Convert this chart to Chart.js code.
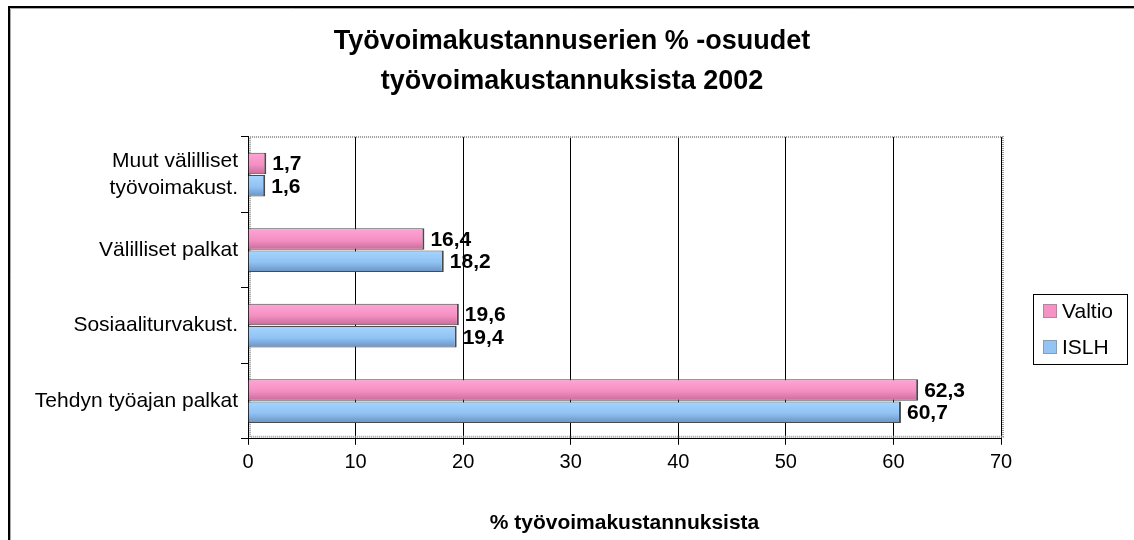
<!DOCTYPE html>
<html>
<head>
<meta charset="utf-8">
<script src="https://cdn.jsdelivr.net/npm/chart.js@4/dist/chart.umd.min.js"></script>
<style>
  body { margin: 0; background: #fff; }
  #wrap { width: 1134px; height: 540px; }
</style>
</head>
<body>
<div id="wrap"><canvas id="chart" width="1134" height="540"></canvas></div>
<script>
// data
const categories = [['Muut välilliset', 'työvoimakust.'], 'Välilliset palkat', 'Sosiaaliturvakust.', 'Tehdyn työajan palkat'];
const valtio = [1.7, 16.4, 19.6, 62.3];
const islh = [1.6, 18.2, 19.4, 60.7];
const seriesNames = ['Valtio', 'ISLH'];
const xMin = 0, xMax = 70, xStep = 10;

const FONT = '"Liberation Sans", Arial, sans-serif';
const CAT_PCT = 0.59;

const palette = [
  { light: '#ffa6d6', mid: '#f58fc2', dark: '#c46a98', flat: '#f593c4' },
  { light: '#a6d6ff', mid: '#90c2f4', dark: '#6890c0', flat: '#94c4f4' }
];

function fmt(v) { return v.toFixed(1).replace('.', ','); }

function barFill(c) {
  const p = palette[c.datasetIndex];
  const chart = c.chart;
  const ys = chart.scales && chart.scales.y;
  if (!ys || !chart.chartArea || c.dataIndex === undefined) return p.flat;
  const center = ys.getPixelForValue(c.dataIndex);
  const band = (ys.bottom - ys.top) / categories.length;
  const t = band * CAT_PCT / 2;
  const top = c.datasetIndex === 0 ? center - t : center;
  const g = chart.ctx.createLinearGradient(0, top, 0, top + t);
  g.addColorStop(0, p.light);
  g.addColorStop(0.55, p.mid);
  g.addColorStop(1, p.dark);
  return g;
}

// white page, outer frame and the grey walls of the plot
const framePlugin = {
  id: 'frame',
  beforeDraw(chart) {
    const ctx = chart.ctx;
    ctx.save();
    ctx.fillStyle = '#fff';
    ctx.fillRect(0, 0, chart.width, chart.height);
    ctx.strokeStyle = '#000';
    ctx.lineWidth = 2;
    ctx.beginPath();
    ctx.moveTo(9, chart.height);
    ctx.lineTo(9, 7);
    ctx.lineTo(chart.width, 7);
    ctx.stroke();
    ctx.strokeStyle = '#aaa';
    ctx.lineWidth = 1;
    ctx.beginPath();
    ctx.moveTo(10.5, chart.height);
    ctx.lineTo(10.5, 8.5);
    ctx.lineTo(chart.width, 8.5);
    ctx.stroke();
    ctx.restore();
  },
  beforeDatasetsDraw(chart) {
    const a = chart.chartArea;
    const ctx = chart.ctx;
    ctx.save();
    ctx.strokeStyle = '#9a9a9a';
    ctx.lineWidth = 2;
    ctx.setLineDash([1, 1]);
    ctx.beginPath();
    ctx.moveTo(a.left + 2, a.bottom - 2);
    ctx.lineTo(a.left + 2, a.top);
    ctx.lineTo(a.right + 2, a.top);
    ctx.lineTo(a.right + 2, a.bottom - 2);
    ctx.lineTo(a.left + 2, a.bottom - 2);
    ctx.stroke();
    ctx.restore();
  }
};

const labelPlugin = {
  id: 'valueLabels',
  afterDatasetsDraw(chart) {
    const ctx = chart.ctx;
    ctx.save();
    ctx.font = 'bold 21px ' + FONT;
    ctx.fillStyle = '#000';
    ctx.textBaseline = 'middle';
    ctx.textAlign = 'left';
    chart.data.datasets.forEach((ds, i) => {
      chart.getDatasetMeta(i).data.forEach((el, j) => {
        ctx.fillText(fmt(ds.data[j]), el.x + 6, el.y + 1);
      });
    });
    ctx.restore();
  }
};

// legend box at the right
const legendPlugin = {
  id: 'boxLegend',
  afterDraw(chart) {
    const ctx = chart.ctx;
    const x = 1033, y = 294, w = 94, h = 70;
    ctx.save();
    ctx.strokeStyle = '#000';
    ctx.lineWidth = 1;
    ctx.strokeRect(x + 0.5, y + 0.5, w, h);
    ctx.font = '21px ' + FONT;
    ctx.textBaseline = 'middle';
    ctx.textAlign = 'left';
    chart.data.datasets.forEach((ds, i) => {
      const cy = y + 17 + i * 36;
      ctx.fillStyle = palette[i].flat;
      ctx.fillRect(x + 10, cy - 7, 14, 14);
      ctx.strokeStyle = '#777';
      ctx.setLineDash([1, 1]);
      ctx.strokeRect(x + 10.5, cy - 6.5, 13, 13);
      ctx.setLineDash([]);
      ctx.fillStyle = '#000';
      ctx.fillText(ds.label, x + 29, cy + 1);
    });
    ctx.restore();
  }
};

new Chart(document.getElementById('chart'), {
  type: 'bar',
  data: {
    labels: categories,
    datasets: [
      { label: seriesNames[0], data: valtio, yAxisID: 'y', backgroundColor: barFill },
      { label: seriesNames[1], data: islh, yAxisID: 'y', backgroundColor: barFill }
    ]
  },
  options: {
    indexAxis: 'y',
    responsive: false,
    animation: false,
    devicePixelRatio: 1,
    layout: { padding: { left: 10, right: 0, top: 0, bottom: 0 } },
    datasets: {
      bar: {
        categoryPercentage: CAT_PCT,
        barPercentage: 0.97,
        borderColor: '#4a4a4a',
        borderWidth: { top: 1, bottom: 1, left: 0, right: 2 },
        borderSkipped: false
      }
    },
    plugins: {
      legend: { display: false },
      tooltip: { enabled: false },
      title: {
        display: true,
        text: ['Työvoimakustannuserien % -osuudet', 'työvoimakustannuksista 2002'],
        color: '#000',
        font: { family: FONT, size: 27, weight: 'bold', lineHeight: 1.48 },
        padding: { top: 22, bottom: 35 }
      }
    },
    scales: {
      x: {
        type: 'linear',
        min: xMin,
        max: xMax,
        ticks: {
          stepSize: xStep,
          color: '#000',
          padding: 6,
          font: { family: FONT, size: 20 }
        },
        grid: { color: '#000', lineWidth: 1, tickLength: 6, tickColor: '#000' },
        border: { color: '#000', width: 1 },
        title: {
          display: true,
          text: '% työvoimakustannuksista',
          color: '#000',
          font: { family: FONT, size: 21, weight: 'bold' },
          padding: { top: 30, bottom: 4 }
        }
      },
      y: {
        type: 'category',
        position: 'left',
        ticks: {
          color: '#000',
          padding: 3,
          font: { family: FONT, size: 21, lineHeight: 1.3 }
        },
        grid: { drawOnChartArea: false, tickLength: 7, color: '#000' },
        border: { color: '#000', width: 1 },
        afterFit(s) { s.width = 238; }
      },
      y2: {
        type: 'linear',
        position: 'right',
        display: true,
        ticks: { display: false },
        grid: { display: false },
        border: { display: false },
        afterFit(s) { s.width = 133; }
      }
    }
  },
  plugins: [framePlugin, labelPlugin, legendPlugin]
});
</script>
</body>
</html>
